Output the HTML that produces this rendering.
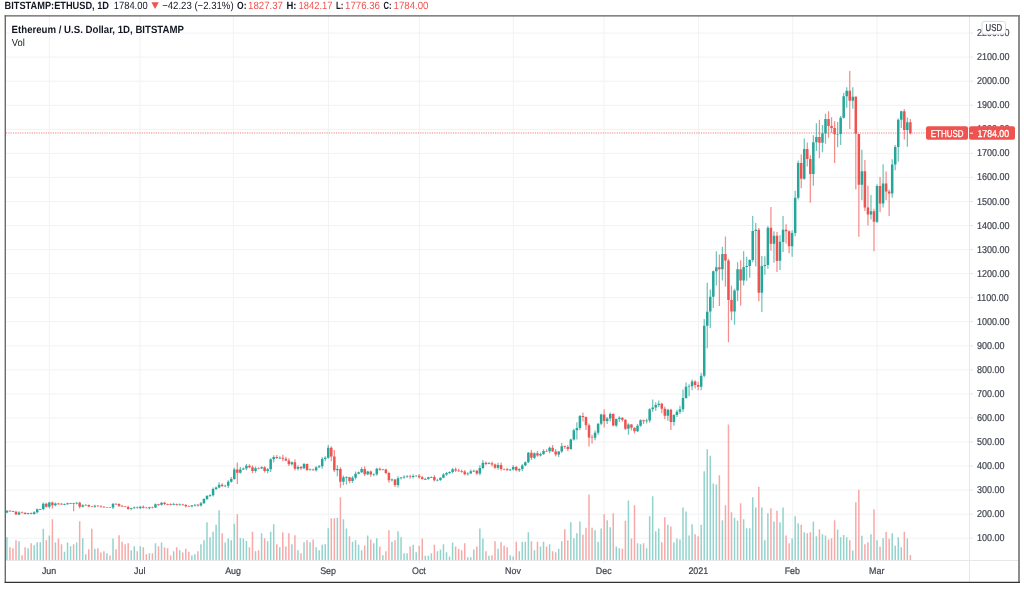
<!DOCTYPE html>
<html lang="en"><head><meta charset="utf-8"><title>ETHUSD 1D BITSTAMP chart</title>
<style>html,body{margin:0;padding:0;background:#fff;overflow:hidden}svg{display:block}</style></head>
<body>
<svg width="1024" height="589" viewBox="0 0 1024 589" font-family="'Liberation Sans', sans-serif" text-rendering="geometricPrecision">
<rect width="1024" height="589" fill="#fff"/>
<path d="M49.4 16V563.5 M140.0 16V563.5 M233.4 16V563.5 M328.4 16V563.5 M419.3 16V563.5 M513.3 16V563.5 M604.0 16V563.5 M698.6 16V563.5 M792.7 16V563.5 M877.1 16V563.5 M6 538.2H969 M6 514.2H969 M6 490.1H969 M6 466.0H969 M6 442.0H969 M6 417.9H969 M6 393.9H969 M6 369.8H969 M6 345.8H969 M6 321.7H969 M6 297.7H969 M6 273.6H969 M6 249.6H969 M6 225.5H969 M6 201.5H969 M6 177.4H969 M6 153.4H969 M6 129.3H969 M6 105.3H969 M6 81.2H969 M6 57.1H969 M6 33.1H969" stroke="#f1f2f4" stroke-width="1" fill="none"/>
<path d="M6.15 560.2v-23.0h1.5V560.2z M18.28 560.2v-19.0h1.5V560.2z M27.38 560.2v-12.0h1.5V560.2z M33.44 560.2v-15.0h1.5V560.2z M36.47 560.2v-18.0h1.5V560.2z M39.50 560.2v-18.0h1.5V560.2z M42.54 560.2v-31.5h1.5V560.2z M48.60 560.2v-24.6h1.5V560.2z M54.66 560.2v-17.7h1.5V560.2z M63.76 560.2v-8.4h1.5V560.2z M66.79 560.2v-17.7h1.5V560.2z M69.82 560.2v-14.0h1.5V560.2z M75.89 560.2v-17.7h1.5V560.2z M81.95 560.2v-22.0h1.5V560.2z M84.98 560.2v-6.0h1.5V560.2z M94.08 560.2v-11.5h1.5V560.2z M106.20 560.2v-7.0h1.5V560.2z M112.27 560.2v-21.7h1.5V560.2z M130.46 560.2v-10.0h1.5V560.2z M133.49 560.2v-14.0h1.5V560.2z M139.55 560.2v-14.0h1.5V560.2z M148.65 560.2v-7.0h1.5V560.2z M154.71 560.2v-17.0h1.5V560.2z M160.78 560.2v-17.7h1.5V560.2z M172.90 560.2v-9.0h1.5V560.2z M178.97 560.2v-10.0h1.5V560.2z M191.09 560.2v-4.6h1.5V560.2z M194.13 560.2v-6.0h1.5V560.2z M200.19 560.2v-16.0h1.5V560.2z M203.22 560.2v-20.0h1.5V560.2z M206.25 560.2v-38.0h1.5V560.2z M209.29 560.2v-23.0h1.5V560.2z M212.32 560.2v-28.4h1.5V560.2z M215.35 560.2v-35.5h1.5V560.2z M218.38 560.2v-50.0h1.5V560.2z M224.44 560.2v-17.7h1.5V560.2z M227.48 560.2v-21.7h1.5V560.2z M230.51 560.2v-20.0h1.5V560.2z M233.54 560.2v-36.5h1.5V560.2z M239.60 560.2v-22.2h1.5V560.2z M242.64 560.2v-21.6h1.5V560.2z M245.67 560.2v-19.3h1.5V560.2z M254.76 560.2v-9.0h1.5V560.2z M260.83 560.2v-27.0h1.5V560.2z M266.89 560.2v-19.0h1.5V560.2z M269.92 560.2v-28.5h1.5V560.2z M272.95 560.2v-36.0h1.5V560.2z M279.02 560.2v-13.0h1.5V560.2z M291.14 560.2v-16.0h1.5V560.2z M297.21 560.2v-10.0h1.5V560.2z M303.27 560.2v-18.0h1.5V560.2z M309.33 560.2v-18.0h1.5V560.2z M315.40 560.2v-13.0h1.5V560.2z M318.43 560.2v-10.0h1.5V560.2z M321.46 560.2v-15.4h1.5V560.2z M324.49 560.2v-16.0h1.5V560.2z M327.53 560.2v-32.0h1.5V560.2z M336.62 560.2v-42.5h1.5V560.2z M342.68 560.2v-41.0h1.5V560.2z M345.72 560.2v-31.6h1.5V560.2z M351.78 560.2v-18.5h1.5V560.2z M354.81 560.2v-20.0h1.5V560.2z M357.84 560.2v-15.4h1.5V560.2z M360.88 560.2v-10.0h1.5V560.2z M366.94 560.2v-24.7h1.5V560.2z M373.00 560.2v-17.0h1.5V560.2z M376.03 560.2v-22.0h1.5V560.2z M382.10 560.2v-5.0h1.5V560.2z M391.19 560.2v-18.5h1.5V560.2z M397.26 560.2v-29.0h1.5V560.2z M400.29 560.2v-23.0h1.5V560.2z M403.32 560.2v-7.0h1.5V560.2z M406.35 560.2v-7.0h1.5V560.2z M412.42 560.2v-15.4h1.5V560.2z M415.45 560.2v-8.0h1.5V560.2z M424.54 560.2v-4.5h1.5V560.2z M427.58 560.2v-4.5h1.5V560.2z M430.61 560.2v-7.0h1.5V560.2z M436.67 560.2v-9.0h1.5V560.2z M439.70 560.2v-10.7h1.5V560.2z M442.73 560.2v-16.0h1.5V560.2z M445.77 560.2v-8.0h1.5V560.2z M448.80 560.2v-3.7h1.5V560.2z M451.83 560.2v-17.6h1.5V560.2z M466.99 560.2v-3.0h1.5V560.2z M470.02 560.2v-3.0h1.5V560.2z M473.05 560.2v-10.7h1.5V560.2z M479.12 560.2v-31.6h1.5V560.2z M482.15 560.2v-21.6h1.5V560.2z M488.21 560.2v-4.5h1.5V560.2z M497.31 560.2v-11.4h1.5V560.2z M509.43 560.2v-5.0h1.5V560.2z M512.47 560.2v-3.7h1.5V560.2z M518.53 560.2v-9.0h1.5V560.2z M521.56 560.2v-18.5h1.5V560.2z M524.59 560.2v-18.5h1.5V560.2z M527.62 560.2v-28.0h1.5V560.2z M533.69 560.2v-10.0h1.5V560.2z M539.75 560.2v-13.7h1.5V560.2z M542.78 560.2v-18.5h1.5V560.2z M548.85 560.2v-16.0h1.5V560.2z M557.94 560.2v-11.4h1.5V560.2z M560.97 560.2v-19.0h1.5V560.2z M570.07 560.2v-38.0h1.5V560.2z M573.10 560.2v-22.0h1.5V560.2z M576.13 560.2v-27.0h1.5V560.2z M579.17 560.2v-38.7h1.5V560.2z M594.32 560.2v-30.0h1.5V560.2z M597.36 560.2v-18.5h1.5V560.2z M600.39 560.2v-31.8h1.5V560.2z M606.45 560.2v-40.0h1.5V560.2z M609.48 560.2v-33.0h1.5V560.2z M615.55 560.2v-13.7h1.5V560.2z M618.58 560.2v-12.0h1.5V560.2z M627.67 560.2v-59.7h1.5V560.2z M636.77 560.2v-17.0h1.5V560.2z M639.80 560.2v-16.0h1.5V560.2z M645.86 560.2v-12.0h1.5V560.2z M648.90 560.2v-44.0h1.5V560.2z M651.93 560.2v-64.0h1.5V560.2z M654.96 560.2v-29.0h1.5V560.2z M657.99 560.2v-31.6h1.5V560.2z M667.09 560.2v-35.4h1.5V560.2z M673.15 560.2v-18.0h1.5V560.2z M676.18 560.2v-21.6h1.5V560.2z M679.21 560.2v-20.7h1.5V560.2z M682.25 560.2v-52.6h1.5V560.2z M685.28 560.2v-48.7h1.5V560.2z M688.31 560.2v-24.7h1.5V560.2z M691.34 560.2v-36.0h1.5V560.2z M700.44 560.2v-35.4h1.5V560.2z M703.47 560.2v-89.0h1.5V560.2z M706.50 560.2v-111.0h1.5V560.2z M709.53 560.2v-104.5h1.5V560.2z M712.56 560.2v-76.6h1.5V560.2z M715.60 560.2v-75.8h1.5V560.2z M721.66 560.2v-40.0h1.5V560.2z M733.79 560.2v-42.5h1.5V560.2z M736.82 560.2v-39.4h1.5V560.2z M742.88 560.2v-41.0h1.5V560.2z M745.91 560.2v-32.0h1.5V560.2z M748.95 560.2v-32.0h1.5V560.2z M751.98 560.2v-63.0h1.5V560.2z M755.01 560.2v-52.6h1.5V560.2z M761.07 560.2v-52.6h1.5V560.2z M764.10 560.2v-20.0h1.5V560.2z M767.14 560.2v-47.0h1.5V560.2z M773.20 560.2v-38.7h1.5V560.2z M779.26 560.2v-38.0h1.5V560.2z M782.30 560.2v-52.6h1.5V560.2z M791.39 560.2v-21.6h1.5V560.2z M794.42 560.2v-44.0h1.5V560.2z M797.45 560.2v-37.0h1.5V560.2z M803.52 560.2v-28.0h1.5V560.2z M812.61 560.2v-38.7h1.5V560.2z M815.65 560.2v-24.0h1.5V560.2z M821.71 560.2v-26.0h1.5V560.2z M824.74 560.2v-24.6h1.5V560.2z M836.87 560.2v-30.8h1.5V560.2z M839.90 560.2v-23.0h1.5V560.2z M842.93 560.2v-25.2h1.5V560.2z M845.96 560.2v-23.0h1.5V560.2z M852.03 560.2v-9.8h1.5V560.2z M861.12 560.2v-24.5h1.5V560.2z M870.22 560.2v-26.0h1.5V560.2z M876.28 560.2v-20.0h1.5V560.2z M882.35 560.2v-22.0h1.5V560.2z M891.44 560.2v-27.0h1.5V560.2z M894.47 560.2v-14.5h1.5V560.2z M897.50 560.2v-23.0h1.5V560.2z M900.54 560.2v-13.0h1.5V560.2z M906.60 560.2v-21.7h1.5V560.2z" fill="#93d3cd"/>
<path d="M9.19 560.2v-13.0h1.5V560.2z M12.22 560.2v-12.0h1.5V560.2z M15.25 560.2v-20.0h1.5V560.2z M21.31 560.2v-5.0h1.5V560.2z M24.35 560.2v-13.0h1.5V560.2z M30.41 560.2v-17.0h1.5V560.2z M45.57 560.2v-20.0h1.5V560.2z M51.63 560.2v-41.0h1.5V560.2z M57.70 560.2v-21.7h1.5V560.2z M60.73 560.2v-16.0h1.5V560.2z M72.85 560.2v-16.0h1.5V560.2z M78.92 560.2v-39.0h1.5V560.2z M88.01 560.2v-11.0h1.5V560.2z M91.05 560.2v-31.5h1.5V560.2z M97.11 560.2v-12.0h1.5V560.2z M100.14 560.2v-7.7h1.5V560.2z M103.17 560.2v-9.0h1.5V560.2z M109.24 560.2v-4.6h1.5V560.2z M115.30 560.2v-11.0h1.5V560.2z M118.33 560.2v-25.0h1.5V560.2z M121.36 560.2v-18.4h1.5V560.2z M124.40 560.2v-16.0h1.5V560.2z M127.43 560.2v-17.0h1.5V560.2z M136.52 560.2v-9.0h1.5V560.2z M142.59 560.2v-13.0h1.5V560.2z M145.62 560.2v-6.0h1.5V560.2z M151.68 560.2v-7.0h1.5V560.2z M157.74 560.2v-14.0h1.5V560.2z M163.81 560.2v-13.0h1.5V560.2z M166.84 560.2v-12.0h1.5V560.2z M169.87 560.2v-4.6h1.5V560.2z M175.94 560.2v-13.0h1.5V560.2z M182.00 560.2v-7.7h1.5V560.2z M185.03 560.2v-11.5h1.5V560.2z M188.06 560.2v-8.4h1.5V560.2z M197.16 560.2v-9.0h1.5V560.2z M221.41 560.2v-27.0h1.5V560.2z M236.57 560.2v-46.0h1.5V560.2z M248.70 560.2v-13.0h1.5V560.2z M251.73 560.2v-28.5h1.5V560.2z M257.79 560.2v-10.0h1.5V560.2z M263.86 560.2v-22.0h1.5V560.2z M275.99 560.2v-16.0h1.5V560.2z M282.05 560.2v-28.0h1.5V560.2z M285.08 560.2v-13.7h1.5V560.2z M288.11 560.2v-27.0h1.5V560.2z M294.18 560.2v-25.0h1.5V560.2z M300.24 560.2v-7.0h1.5V560.2z M306.30 560.2v-20.0h1.5V560.2z M312.37 560.2v-20.7h1.5V560.2z M330.56 560.2v-42.0h1.5V560.2z M333.59 560.2v-42.0h1.5V560.2z M339.65 560.2v-63.0h1.5V560.2z M348.75 560.2v-24.0h1.5V560.2z M363.91 560.2v-14.6h1.5V560.2z M369.97 560.2v-20.7h1.5V560.2z M379.07 560.2v-13.7h1.5V560.2z M385.13 560.2v-9.0h1.5V560.2z M388.16 560.2v-30.0h1.5V560.2z M394.23 560.2v-20.0h1.5V560.2z M409.38 560.2v-13.7h1.5V560.2z M418.48 560.2v-14.5h1.5V560.2z M421.51 560.2v-21.6h1.5V560.2z M433.64 560.2v-15.4h1.5V560.2z M454.86 560.2v-13.7h1.5V560.2z M457.89 560.2v-11.4h1.5V560.2z M460.92 560.2v-10.0h1.5V560.2z M463.96 560.2v-17.0h1.5V560.2z M476.08 560.2v-13.7h1.5V560.2z M485.18 560.2v-9.0h1.5V560.2z M491.24 560.2v-5.0h1.5V560.2z M494.27 560.2v-19.0h1.5V560.2z M500.34 560.2v-18.0h1.5V560.2z M503.37 560.2v-14.5h1.5V560.2z M506.40 560.2v-13.0h1.5V560.2z M515.50 560.2v-18.5h1.5V560.2z M530.66 560.2v-19.0h1.5V560.2z M536.72 560.2v-18.5h1.5V560.2z M545.82 560.2v-13.7h1.5V560.2z M551.88 560.2v-9.0h1.5V560.2z M554.91 560.2v-8.0h1.5V560.2z M564.01 560.2v-31.0h1.5V560.2z M567.04 560.2v-20.0h1.5V560.2z M582.20 560.2v-25.4h1.5V560.2z M585.23 560.2v-32.5h1.5V560.2z M588.26 560.2v-65.7h1.5V560.2z M591.29 560.2v-32.5h1.5V560.2z M603.42 560.2v-46.0h1.5V560.2z M612.51 560.2v-47.0h1.5V560.2z M621.61 560.2v-11.4h1.5V560.2z M624.64 560.2v-39.4h1.5V560.2z M630.71 560.2v-21.6h1.5V560.2z M633.74 560.2v-55.0h1.5V560.2z M642.83 560.2v-17.0h1.5V560.2z M661.02 560.2v-18.0h1.5V560.2z M664.06 560.2v-43.0h1.5V560.2z M670.12 560.2v-33.7h1.5V560.2z M694.37 560.2v-26.0h1.5V560.2z M697.41 560.2v-24.0h1.5V560.2z M718.63 560.2v-85.0h1.5V560.2z M724.69 560.2v-55.0h1.5V560.2z M727.72 560.2v-135.8h1.5V560.2z M730.75 560.2v-48.0h1.5V560.2z M739.85 560.2v-57.0h1.5V560.2z M758.04 560.2v-73.5h1.5V560.2z M770.17 560.2v-52.0h1.5V560.2z M776.23 560.2v-49.5h1.5V560.2z M785.33 560.2v-24.7h1.5V560.2z M788.36 560.2v-17.0h1.5V560.2z M800.49 560.2v-35.4h1.5V560.2z M806.55 560.2v-27.0h1.5V560.2z M809.58 560.2v-28.0h1.5V560.2z M818.68 560.2v-31.0h1.5V560.2z M827.77 560.2v-20.8h1.5V560.2z M830.80 560.2v-22.0h1.5V560.2z M833.84 560.2v-40.0h1.5V560.2z M849.00 560.2v-20.0h1.5V560.2z M855.06 560.2v-58.0h1.5V560.2z M858.09 560.2v-70.4h1.5V560.2z M864.15 560.2v-16.0h1.5V560.2z M867.19 560.2v-18.0h1.5V560.2z M873.25 560.2v-51.0h1.5V560.2z M879.31 560.2v-13.8h1.5V560.2z M885.38 560.2v-28.5h1.5V560.2z M888.41 560.2v-21.4h1.5V560.2z M903.57 560.2v-28.5h1.5V560.2z M909.63 560.2v-5.3h1.5V560.2z" fill="#f7a9a8"/>
<path d="M6 133.00H926" stroke="#ef5350" stroke-width="1.3" stroke-opacity="0.5" stroke-dasharray="1.17 1.17" fill="none"/>
<path d="M6.90 510.28V513.21 M19.03 511.35V515.21 M28.13 512.77V514.65 M34.19 511.34V514.59 M37.22 508.56V513.58 M40.25 508.67V510.02 M43.29 502.55V510.36 M49.35 501.67V508.21 M55.41 502.43V506.35 M64.51 503.50V505.24 M67.54 502.60V504.64 M70.57 502.71V503.64 M76.64 502.34V504.61 M82.70 504.18V507.40 M85.73 503.96V505.61 M94.83 504.80V507.63 M106.95 506.92V507.52 M113.02 503.25V508.98 M131.21 507.80V510.33 M134.24 506.58V508.68 M140.30 506.06V509.21 M149.40 506.68V509.16 M155.46 503.58V507.99 M161.53 501.88V505.77 M173.65 502.85V505.16 M179.72 503.58V505.33 M191.84 504.97V507.24 M194.88 504.17V506.58 M200.94 502.00V506.48 M203.97 498.28V503.74 M207.00 494.93V500.25 M210.04 494.25V497.03 M213.07 487.57V496.45 M216.10 486.58V489.96 M219.13 482.16V488.18 M225.19 484.86V487.14 M228.23 480.23V487.96 M231.26 476.98V482.69 M234.29 467.73V479.76 M240.35 467.01V473.42 M243.39 467.45V470.12 M246.42 463.93V470.25 M255.51 466.45V472.78 M261.58 466.22V468.99 M267.64 468.06V473.24 M270.67 458.35V472.06 M273.70 455.22V462.44 M279.77 456.21V458.72 M291.89 461.38V465.43 M297.96 465.37V470.51 M304.02 463.03V469.04 M310.08 468.55V470.71 M316.15 466.36V471.43 M319.18 465.01V467.95 M322.21 457.11V468.71 M325.24 456.18V461.18 M328.28 444.88V458.83 M337.37 465.33V476.15 M343.43 475.43V485.29 M346.47 476.15V484.57 M352.53 475.91V482.89 M355.56 471.55V479.44 M358.59 471.47V474.28 M361.63 467.30V472.95 M367.69 470.72V475.31 M373.75 473.14V476.13 M376.78 467.84V475.78 M382.85 468.69V470.57 M391.94 478.40V481.52 M398.01 476.21V487.44 M401.04 476.96V479.48 M404.07 475.29V478.87 M407.10 474.98V477.94 M413.17 474.19V478.43 M416.20 475.31V476.72 M425.29 477.77V480.03 M428.33 476.65V479.71 M431.36 476.41V477.98 M437.42 478.78V481.37 M440.45 477.35V481.04 M443.48 473.26V478.22 M446.52 472.09V476.00 M449.55 471.20V474.11 M452.58 468.02V473.39 M467.74 472.32V475.56 M470.77 469.48V473.87 M473.80 469.77V472.12 M479.87 465.37V475.30 M482.90 460.02V469.27 M488.96 462.09V464.33 M498.06 462.70V469.73 M510.18 468.81V471.02 M513.22 464.98V470.54 M519.28 468.30V471.94 M522.31 464.12V471.16 M525.34 461.46V466.36 M528.37 452.10V462.92 M534.44 452.49V459.08 M540.50 452.61V456.45 M543.53 449.26V455.03 M549.60 446.58V453.15 M558.69 450.94V457.10 M561.72 443.07V452.63 M570.82 438.87V449.69 M573.85 428.77V440.55 M576.88 422.27V439.59 M579.92 415.06V429.97 M595.07 430.45V440.31 M598.11 423.23V434.78 M601.14 413.85V425.16 M607.20 416.98V423.96 M610.23 412.41V421.55 M616.30 418.42V427.08 M619.33 416.26V422.03 M628.42 423.23V434.78 M637.52 423.96V431.89 M640.55 419.14V426.84 M646.61 418.66V423.47 M649.65 408.32V422.75 M652.68 399.42V411.93 M655.71 402.31V410.73 M658.74 400.62V406.88 M667.84 408.80V420.83 M673.90 414.33V425.64 M676.93 409.76V416.98 M679.96 405.67V414.09 M683.00 389.56V411.93 M686.03 382.58V398.70 M689.06 384.27V396.29 M692.09 379.46V390.28 M701.19 372.72V390.28 M704.22 319.08V377.29 M707.25 282.76V348.19 M710.28 289.50V327.98 M713.31 270.50V308.02 M716.35 251.25V285.41 M722.41 246.68V280.60 M734.54 288.78V324.86 M737.57 262.32V301.04 M743.63 251.25V285.41 M746.66 256.79V280.84 M749.70 259.19V277.71 M752.73 215.90V262.32 M755.76 223.11V266.41 M761.82 256.07V312.11 M764.85 256.31V274.83 M767.89 226.00V268.81 M773.95 231.29V262.80 M780.01 235.14V270.02 M783.05 215.90V251.98 M792.14 230.33V256.79 M795.17 190.64V236.34 M798.20 160.57V199.54 M804.27 138.45V179.82 M813.36 135.32V185.83 M816.40 123.29V150.95 M822.46 124.98V152.16 M825.49 113.67V143.74 M837.62 122.09V147.35 M840.65 116.08V144.94 M843.68 92.75V118.48 M846.71 87.21V107.66 M852.78 87.21V108.86 M861.87 149.75V200.26 M870.97 194.97V219.50 M877.03 184.15V223.11 M883.10 164.18V207.48 M892.19 159.37V197.86 M895.22 144.94V170.20 M898.25 118.48V161.78 M901.29 110.79V128.10 M907.35 117.52V146.86" stroke="#26a69a" stroke-width="1.25" stroke-opacity="0.66" fill="none"/>
<path d="M9.94 510.15V511.29 M12.97 510.73V512.01 M16.00 510.69V514.82 M22.06 511.53V513.57 M25.10 512.39V514.58 M31.16 512.58V514.17 M46.32 502.67V507.40 M52.38 501.41V508.38 M58.45 502.80V504.85 M61.48 503.09V504.64 M73.60 502.76V511.27 M79.67 501.69V508.52 M88.76 504.52V507.31 M91.80 506.03V507.29 M97.86 504.91V506.58 M100.89 505.23V507.64 M103.92 506.14V507.94 M109.99 506.94V507.75 M116.05 503.45V504.60 M119.08 503.37V507.04 M122.11 505.09V506.81 M125.15 505.93V507.28 M128.18 505.63V509.72 M137.27 506.50V508.80 M143.34 505.60V508.56 M146.37 506.98V508.37 M152.43 506.54V508.52 M158.49 503.82V505.90 M164.56 501.75V505.22 M167.59 503.40V505.24 M170.62 503.24V505.39 M176.69 503.60V505.49 M182.75 503.82V505.35 M185.78 504.07V507.39 M188.81 505.20V506.86 M197.91 504.05V506.59 M222.16 483.34V487.01 M237.32 462.44V484.09 M249.45 464.14V468.13 M252.48 465.26V473.24 M258.54 467.21V469.30 M264.61 466.24V472.53 M276.74 454.90V458.94 M282.80 454.74V461.24 M285.83 456.64V461.37 M288.86 458.14V465.93 M294.93 459.34V470.44 M300.99 466.00V470.01 M307.05 463.45V471.01 M313.12 468.76V470.54 M331.31 446.32V461.24 M334.34 449.93V472.06 M340.40 467.25V487.70 M349.50 476.63V483.37 M364.66 466.22V475.91 M370.72 470.43V476.86 M379.82 467.57V470.73 M385.88 468.77V474.22 M388.91 471.82V482.64 M394.98 479.28V486.97 M410.13 474.82V478.63 M419.23 473.99V478.78 M422.26 475.94V479.68 M434.39 475.12V481.43 M455.61 467.47V471.92 M458.64 468.85V471.84 M461.67 469.40V472.75 M464.71 469.88V475.28 M476.83 469.83V475.03 M485.93 461.41V465.27 M491.99 461.41V466.50 M495.02 463.45V468.66 M501.09 462.45V470.81 M504.12 468.48V470.21 M507.15 467.84V470.77 M516.25 465.78V471.20 M531.41 449.69V460.03 M537.47 450.99V456.78 M546.57 449.35V451.93 M552.63 445.05V451.86 M555.66 449.05V456.18 M564.76 445.53V448.87 M567.79 445.02V450.98 M582.95 412.41V421.55 M585.98 416.50V429.97 M589.01 423.47V446.57 M592.04 434.78V443.44 M604.17 409.28V427.56 M613.26 413.13V426.36 M622.36 417.22V421.79 M625.39 419.14V429.97 M631.46 423.96V430.45 M634.49 427.56V433.58 M643.58 419.87V423.96 M661.77 402.79V413.13 M664.81 406.40V419.14 M670.87 408.80V429.97 M695.12 380.18V388.60 M698.16 381.86V390.28 M719.38 254.62V306.10 M725.44 236.58V286.61 M728.47 258.71V342.18 M731.50 285.65V320.29 M740.60 260.15V305.86 M758.79 227.92V301.28 M770.92 207.00V250.77 M776.98 232.01V271.94 M786.08 224.32V243.56 M789.11 230.33V253.18 M801.24 154.56V188.24 M807.30 142.54V166.59 M810.33 155.28V202.67 M819.43 119.68V158.17 M828.52 111.27V137.72 M831.55 117.28V132.91 M834.59 120.89V162.98 M849.75 71.10V129.07 M855.81 96.35V189.44 M858.84 133.88V236.82 M864.90 160.09V211.09 M867.94 185.83V225.52 M874.00 208.68V251.25 M880.06 176.93V212.29 M886.13 171.40V200.26 M889.16 189.44V215.90 M904.32 109.10V139.41 M910.38 118.96V134.60" stroke="#ef5350" stroke-width="1.25" stroke-opacity="0.66" fill="none"/>
<path d="M5.65 510.79h2.5v1.68h-2.5z M17.78 512.47h2.5v1.92h-2.5z M26.88 513.19h2.5v0.72h-2.5z M32.94 512.23h2.5v1.68h-2.5z M35.97 509.34h2.5v2.89h-2.5z M39.00 509.10h2.5v0.60h-2.5z M42.04 503.81h2.5v5.29h-2.5z M48.10 502.61h2.5v4.09h-2.5z M54.16 503.57h2.5v1.68h-2.5z M63.26 504.29h2.5v0.60h-2.5z M66.29 503.33h2.5v0.96h-2.5z M69.32 503.09h2.5v0.60h-2.5z M75.39 502.85h2.5v0.72h-2.5z M81.45 505.25h2.5v1.44h-2.5z M84.48 505.01h2.5v0.60h-2.5z M93.58 505.74h2.5v0.96h-2.5z M105.70 507.18h2.5v0.60h-2.5z M111.77 503.81h2.5v3.61h-2.5z M129.96 508.14h2.5v0.96h-2.5z M132.99 507.42h2.5v0.72h-2.5z M139.05 506.70h2.5v1.20h-2.5z M148.15 507.18h2.5v0.96h-2.5z M154.21 504.29h2.5v3.13h-2.5z M160.28 502.85h2.5v1.92h-2.5z M172.40 504.05h2.5v0.72h-2.5z M178.47 504.53h2.5v0.60h-2.5z M190.59 505.49h2.5v0.96h-2.5z M193.63 504.77h2.5v0.72h-2.5z M199.69 503.33h2.5v2.16h-2.5z M202.72 499.00h2.5v4.33h-2.5z M205.75 496.11h2.5v2.89h-2.5z M208.79 495.15h2.5v0.96h-2.5z M211.82 488.90h2.5v6.25h-2.5z M214.85 487.46h2.5v1.44h-2.5z M217.88 484.81h2.5v2.65h-2.5z M223.94 485.77h2.5v0.60h-2.5z M226.98 481.68h2.5v4.09h-2.5z M230.01 479.04h2.5v2.65h-2.5z M233.04 469.42h2.5v9.62h-2.5z M239.10 469.42h2.5v3.37h-2.5z M242.14 468.45h2.5v0.96h-2.5z M245.17 465.81h2.5v2.65h-2.5z M254.26 468.21h2.5v2.89h-2.5z M260.33 467.25h2.5v1.20h-2.5z M266.39 469.17h2.5v1.92h-2.5z M269.42 459.31h2.5v9.86h-2.5z M272.45 456.91h2.5v2.41h-2.5z M278.52 457.87h2.5v0.60h-2.5z M290.64 462.20h2.5v2.16h-2.5z M296.71 467.01h2.5v1.68h-2.5z M302.77 464.12h2.5v4.09h-2.5z M308.83 469.42h2.5v0.60h-2.5z M314.90 467.25h2.5v2.89h-2.5z M317.93 466.29h2.5v0.96h-2.5z M320.96 459.07h2.5v7.22h-2.5z M323.99 457.63h2.5v1.44h-2.5z M327.03 447.77h2.5v9.86h-2.5z M336.12 468.93h2.5v1.20h-2.5z M342.18 477.35h2.5v4.33h-2.5z M345.22 477.35h2.5v0.60h-2.5z M351.28 477.83h2.5v3.13h-2.5z M354.31 473.74h2.5v4.09h-2.5z M357.34 472.30h2.5v1.44h-2.5z M360.38 468.93h2.5v3.37h-2.5z M366.44 471.58h2.5v2.65h-2.5z M372.50 474.23h2.5v0.60h-2.5z M375.53 468.69h2.5v5.53h-2.5z M381.60 469.42h2.5v0.60h-2.5z M390.69 479.52h2.5v0.72h-2.5z M396.76 478.32h2.5v6.73h-2.5z M399.79 477.59h2.5v0.72h-2.5z M402.82 476.87h2.5v0.72h-2.5z M405.85 476.39h2.5v0.60h-2.5z M411.92 475.91h2.5v1.20h-2.5z M414.95 475.67h2.5v0.60h-2.5z M424.04 479.04h2.5v0.60h-2.5z M427.08 477.35h2.5v1.68h-2.5z M430.11 477.11h2.5v0.60h-2.5z M436.17 480.00h2.5v0.60h-2.5z M439.20 477.83h2.5v2.16h-2.5z M442.23 474.47h2.5v3.37h-2.5z M445.27 473.02h2.5v1.44h-2.5z M448.30 472.06h2.5v0.96h-2.5z M451.33 469.17h2.5v2.89h-2.5z M466.49 473.50h2.5v0.72h-2.5z M469.52 471.34h2.5v2.16h-2.5z M472.55 470.86h2.5v0.60h-2.5z M478.62 467.97h2.5v5.53h-2.5z M481.65 462.68h2.5v5.29h-2.5z M487.71 463.16h2.5v0.72h-2.5z M496.81 465.09h2.5v2.65h-2.5z M508.93 469.42h2.5v0.72h-2.5z M511.97 467.01h2.5v2.41h-2.5z M518.03 468.93h2.5v1.20h-2.5z M521.06 465.57h2.5v3.37h-2.5z M524.09 462.20h2.5v3.37h-2.5z M527.12 452.82h2.5v9.38h-2.5z M533.19 453.30h2.5v4.33h-2.5z M539.25 454.02h2.5v1.44h-2.5z M542.28 450.89h2.5v3.13h-2.5z M548.35 447.77h2.5v3.37h-2.5z M557.44 451.62h2.5v2.89h-2.5z M560.47 446.32h2.5v5.29h-2.5z M569.57 439.59h2.5v9.38h-2.5z M572.60 430.21h2.5v9.38h-2.5z M575.63 428.04h2.5v2.16h-2.5z M578.67 416.02h2.5v12.03h-2.5z M593.82 432.85h2.5v4.81h-2.5z M596.86 423.71h2.5v9.14h-2.5z M599.89 414.57h2.5v9.14h-2.5z M605.95 418.42h2.5v2.65h-2.5z M608.98 414.09h2.5v4.33h-2.5z M615.05 418.90h2.5v6.49h-2.5z M618.08 417.70h2.5v1.20h-2.5z M627.17 424.44h2.5v4.33h-2.5z M636.27 425.64h2.5v5.53h-2.5z M639.30 420.35h2.5v5.29h-2.5z M645.36 420.59h2.5v0.72h-2.5z M648.40 409.28h2.5v11.30h-2.5z M651.43 407.60h2.5v1.68h-2.5z M654.46 404.95h2.5v2.65h-2.5z M657.49 403.75h2.5v1.20h-2.5z M666.59 409.76h2.5v6.01h-2.5z M672.65 415.06h2.5v6.98h-2.5z M675.68 411.69h2.5v3.37h-2.5z M678.71 409.28h2.5v2.41h-2.5z M681.75 397.98h2.5v11.30h-2.5z M684.78 386.67h2.5v11.30h-2.5z M687.81 386.19h2.5v0.60h-2.5z M690.84 381.38h2.5v4.81h-2.5z M699.94 375.85h2.5v10.82h-2.5z M702.97 325.82h2.5v50.03h-2.5z M706.00 311.63h2.5v14.19h-2.5z M709.03 296.71h2.5v14.91h-2.5z M712.06 271.22h2.5v25.50h-2.5z M715.10 267.13h2.5v4.09h-2.5z M721.16 253.90h2.5v15.39h-2.5z M733.29 290.46h2.5v20.93h-2.5z M736.32 269.29h2.5v21.17h-2.5z M742.38 266.89h2.5v13.71h-2.5z M745.41 265.93h2.5v0.96h-2.5z M748.45 259.91h2.5v6.01h-2.5z M751.48 231.05h2.5v28.86h-2.5z M754.51 229.85h2.5v1.20h-2.5z M760.57 265.93h2.5v26.70h-2.5z M763.60 264.96h2.5v0.96h-2.5z M766.64 227.68h2.5v37.28h-2.5z M772.70 235.86h2.5v7.94h-2.5z M778.76 241.87h2.5v19.00h-2.5z M781.80 229.85h2.5v12.03h-2.5z M790.89 232.97h2.5v13.23h-2.5z M793.92 197.86h2.5v35.12h-2.5z M796.95 162.98h2.5v34.88h-2.5z M803.02 149.03h2.5v29.83h-2.5z M812.11 142.29h2.5v31.75h-2.5z M815.15 137.00h2.5v5.29h-2.5z M821.21 133.40h2.5v9.38h-2.5z M824.24 118.96h2.5v14.43h-2.5z M836.37 133.88h2.5v0.60h-2.5z M839.40 117.76h2.5v16.12h-2.5z M842.43 96.35h2.5v21.41h-2.5z M845.46 90.82h2.5v5.53h-2.5z M851.53 96.83h2.5v3.85h-2.5z M860.62 171.16h2.5v13.47h-2.5z M869.72 211.33h2.5v3.13h-2.5z M875.78 186.07h2.5v35.60h-2.5z M881.85 183.43h2.5v19.96h-2.5z M890.94 164.42h2.5v29.10h-2.5z M893.97 147.11h2.5v17.32h-2.5z M897.00 119.68h2.5v27.42h-2.5z M900.04 111.27h2.5v8.42h-2.5z M906.10 122.33h2.5v7.70h-2.5z" fill="#26a69a"/>
<path d="M8.69 510.79h2.5v0.60h-2.5z M11.72 511.03h2.5v0.72h-2.5z M14.75 511.75h2.5v2.65h-2.5z M20.81 512.47h2.5v0.60h-2.5z M23.85 512.71h2.5v1.20h-2.5z M29.91 513.19h2.5v0.72h-2.5z M45.07 503.81h2.5v2.89h-2.5z M51.13 502.61h2.5v2.65h-2.5z M57.20 503.57h2.5v0.60h-2.5z M60.23 503.81h2.5v0.60h-2.5z M72.35 503.09h2.5v0.60h-2.5z M78.42 502.85h2.5v3.85h-2.5z M87.51 505.01h2.5v1.44h-2.5z M90.55 506.46h2.5v0.60h-2.5z M96.61 505.74h2.5v0.60h-2.5z M99.64 506.22h2.5v0.60h-2.5z M102.67 506.70h2.5v0.60h-2.5z M108.74 507.18h2.5v0.60h-2.5z M114.80 503.81h2.5v0.60h-2.5z M117.83 504.05h2.5v1.68h-2.5z M120.86 505.74h2.5v0.72h-2.5z M123.90 506.46h2.5v0.60h-2.5z M126.93 506.94h2.5v2.16h-2.5z M136.02 507.42h2.5v0.60h-2.5z M142.09 506.70h2.5v0.96h-2.5z M145.12 507.66h2.5v0.60h-2.5z M151.18 507.18h2.5v0.60h-2.5z M157.24 504.29h2.5v0.60h-2.5z M163.31 502.85h2.5v1.20h-2.5z M166.34 504.05h2.5v0.60h-2.5z M169.37 504.29h2.5v0.60h-2.5z M175.44 504.05h2.5v0.60h-2.5z M181.50 504.53h2.5v0.60h-2.5z M184.53 505.01h2.5v1.20h-2.5z M187.56 506.22h2.5v0.60h-2.5z M196.66 504.77h2.5v0.72h-2.5z M220.91 484.81h2.5v1.20h-2.5z M236.07 469.42h2.5v3.37h-2.5z M248.20 465.81h2.5v1.44h-2.5z M251.23 467.25h2.5v3.85h-2.5z M257.29 468.21h2.5v0.60h-2.5z M263.36 467.25h2.5v3.85h-2.5z M275.49 456.91h2.5v1.20h-2.5z M281.55 457.87h2.5v0.96h-2.5z M284.58 458.83h2.5v1.68h-2.5z M287.61 460.52h2.5v3.85h-2.5z M293.68 462.20h2.5v6.49h-2.5z M299.74 467.01h2.5v1.20h-2.5z M305.80 464.12h2.5v5.77h-2.5z M311.87 469.42h2.5v0.72h-2.5z M330.06 447.77h2.5v8.66h-2.5z M333.09 456.43h2.5v13.71h-2.5z M339.15 468.93h2.5v12.75h-2.5z M348.25 477.35h2.5v3.61h-2.5z M363.41 468.93h2.5v5.29h-2.5z M369.47 471.58h2.5v2.89h-2.5z M378.57 468.69h2.5v0.96h-2.5z M384.63 469.42h2.5v3.61h-2.5z M387.66 473.02h2.5v7.22h-2.5z M393.73 479.52h2.5v5.53h-2.5z M408.88 476.39h2.5v0.72h-2.5z M417.98 475.67h2.5v1.68h-2.5z M421.01 477.35h2.5v1.68h-2.5z M433.14 477.11h2.5v3.13h-2.5z M454.36 469.17h2.5v1.44h-2.5z M457.39 470.62h2.5v0.60h-2.5z M460.42 471.10h2.5v0.60h-2.5z M463.46 471.58h2.5v2.65h-2.5z M475.58 470.86h2.5v2.65h-2.5z M484.68 462.68h2.5v1.20h-2.5z M490.74 463.16h2.5v1.44h-2.5z M493.77 464.60h2.5v3.13h-2.5z M499.84 465.09h2.5v3.85h-2.5z M502.87 468.93h2.5v0.60h-2.5z M505.90 469.17h2.5v0.96h-2.5z M515.00 467.01h2.5v3.13h-2.5z M530.16 452.82h2.5v4.81h-2.5z M536.22 453.30h2.5v2.16h-2.5z M545.32 450.89h2.5v0.60h-2.5z M551.38 447.77h2.5v3.61h-2.5z M554.41 451.38h2.5v3.13h-2.5z M563.51 446.32h2.5v0.72h-2.5z M566.54 447.05h2.5v1.92h-2.5z M581.70 416.02h2.5v0.96h-2.5z M584.73 416.98h2.5v8.18h-2.5z M587.76 425.16h2.5v12.27h-2.5z M590.79 437.42h2.5v0.60h-2.5z M602.92 414.57h2.5v6.49h-2.5z M612.01 414.09h2.5v11.30h-2.5z M621.11 417.70h2.5v2.16h-2.5z M624.14 419.87h2.5v8.90h-2.5z M630.21 424.44h2.5v3.37h-2.5z M633.24 427.80h2.5v3.37h-2.5z M642.33 420.35h2.5v0.96h-2.5z M660.52 403.75h2.5v5.05h-2.5z M663.56 408.80h2.5v6.98h-2.5z M669.62 409.76h2.5v12.27h-2.5z M693.87 381.38h2.5v3.61h-2.5z M696.91 384.99h2.5v1.68h-2.5z M718.13 267.13h2.5v2.16h-2.5z M724.19 253.90h2.5v6.49h-2.5z M727.22 260.39h2.5v39.69h-2.5z M730.25 300.08h2.5v11.30h-2.5z M739.35 269.29h2.5v11.30h-2.5z M757.54 229.85h2.5v62.78h-2.5z M769.67 227.68h2.5v16.12h-2.5z M775.73 235.86h2.5v25.02h-2.5z M784.83 229.85h2.5v1.44h-2.5z M787.86 231.29h2.5v14.91h-2.5z M799.99 162.98h2.5v15.87h-2.5z M806.05 149.03h2.5v9.86h-2.5z M809.08 158.89h2.5v15.15h-2.5z M818.18 137.00h2.5v5.77h-2.5z M827.27 118.96h2.5v6.98h-2.5z M830.30 125.94h2.5v2.16h-2.5z M833.34 128.10h2.5v6.25h-2.5z M848.50 90.82h2.5v9.86h-2.5z M854.56 96.83h2.5v37.04h-2.5z M857.59 133.88h2.5v50.75h-2.5z M863.65 171.16h2.5v36.32h-2.5z M866.69 207.48h2.5v6.98h-2.5z M872.75 211.33h2.5v10.34h-2.5z M878.81 186.07h2.5v17.32h-2.5z M884.88 183.43h2.5v8.18h-2.5z M887.91 191.60h2.5v1.92h-2.5z M903.07 111.27h2.5v18.76h-2.5z M909.13 122.33h2.5v10.82h-2.5z" fill="#ef5350"/>
<path d="M969.5 16V582M6 560.5H1019" stroke="#e6e7eb" stroke-width="1" fill="none"/>
<path d="M970 538.2h3 M970 514.2h3 M970 490.1h3 M970 466.0h3 M970 442.0h3 M970 417.9h3 M970 393.9h3 M970 369.8h3 M970 345.8h3 M970 321.7h3 M970 297.7h3 M970 273.6h3 M970 249.6h3 M970 225.5h3 M970 201.5h3 M970 177.4h3 M970 153.4h3 M970 129.3h3 M970 105.3h3 M970 81.2h3 M970 57.1h3 M970 33.1h3" stroke="#e6e7eb" stroke-width="1" fill="none"/>
<text x="976.9" y="541.26" font-size="10" fill="#3e424d" stroke="#3e424d" stroke-width="0.2" textLength="27.5" lengthAdjust="spacingAndGlyphs">100.00</text>
<text x="976.9" y="517.20" font-size="10" fill="#3e424d" stroke="#3e424d" stroke-width="0.2" textLength="27.5" lengthAdjust="spacingAndGlyphs">200.00</text>
<text x="976.9" y="493.15" font-size="10" fill="#3e424d" stroke="#3e424d" stroke-width="0.2" textLength="27.5" lengthAdjust="spacingAndGlyphs">300.00</text>
<text x="976.9" y="469.10" font-size="10" fill="#3e424d" stroke="#3e424d" stroke-width="0.2" textLength="27.5" lengthAdjust="spacingAndGlyphs">400.00</text>
<text x="976.9" y="445.05" font-size="10" fill="#3e424d" stroke="#3e424d" stroke-width="0.2" textLength="27.5" lengthAdjust="spacingAndGlyphs">500.00</text>
<text x="976.9" y="420.99" font-size="10" fill="#3e424d" stroke="#3e424d" stroke-width="0.2" textLength="27.5" lengthAdjust="spacingAndGlyphs">600.00</text>
<text x="976.9" y="396.94" font-size="10" fill="#3e424d" stroke="#3e424d" stroke-width="0.2" textLength="27.5" lengthAdjust="spacingAndGlyphs">700.00</text>
<text x="976.9" y="372.89" font-size="10" fill="#3e424d" stroke="#3e424d" stroke-width="0.2" textLength="27.5" lengthAdjust="spacingAndGlyphs">800.00</text>
<text x="976.9" y="348.83" font-size="10" fill="#3e424d" stroke="#3e424d" stroke-width="0.2" textLength="27.5" lengthAdjust="spacingAndGlyphs">900.00</text>
<text x="976.9" y="324.78" font-size="10" fill="#3e424d" stroke="#3e424d" stroke-width="0.2" textLength="32.5" lengthAdjust="spacingAndGlyphs">1000.00</text>
<text x="976.9" y="300.73" font-size="10" fill="#3e424d" stroke="#3e424d" stroke-width="0.2" textLength="31.8" lengthAdjust="spacingAndGlyphs">1100.00</text>
<text x="976.9" y="276.67" font-size="10" fill="#3e424d" stroke="#3e424d" stroke-width="0.2" textLength="32.5" lengthAdjust="spacingAndGlyphs">1200.00</text>
<text x="976.9" y="252.62" font-size="10" fill="#3e424d" stroke="#3e424d" stroke-width="0.2" textLength="32.5" lengthAdjust="spacingAndGlyphs">1300.00</text>
<text x="976.9" y="228.57" font-size="10" fill="#3e424d" stroke="#3e424d" stroke-width="0.2" textLength="32.5" lengthAdjust="spacingAndGlyphs">1400.00</text>
<text x="976.9" y="204.52" font-size="10" fill="#3e424d" stroke="#3e424d" stroke-width="0.2" textLength="32.5" lengthAdjust="spacingAndGlyphs">1500.00</text>
<text x="976.9" y="180.46" font-size="10" fill="#3e424d" stroke="#3e424d" stroke-width="0.2" textLength="32.5" lengthAdjust="spacingAndGlyphs">1600.00</text>
<text x="976.9" y="156.41" font-size="10" fill="#3e424d" stroke="#3e424d" stroke-width="0.2" textLength="32.5" lengthAdjust="spacingAndGlyphs">1700.00</text>
<text x="976.9" y="132.36" font-size="10" fill="#3e424d" stroke="#3e424d" stroke-width="0.2" textLength="32.5" lengthAdjust="spacingAndGlyphs">1800.00</text>
<text x="976.9" y="108.30" font-size="10" fill="#3e424d" stroke="#3e424d" stroke-width="0.2" textLength="32.5" lengthAdjust="spacingAndGlyphs">1900.00</text>
<text x="976.9" y="84.25" font-size="10" fill="#3e424d" stroke="#3e424d" stroke-width="0.2" textLength="32.5" lengthAdjust="spacingAndGlyphs">2000.00</text>
<text x="976.9" y="60.20" font-size="10" fill="#3e424d" stroke="#3e424d" stroke-width="0.2" textLength="32.5" lengthAdjust="spacingAndGlyphs">2100.00</text>
<text x="976.9" y="36.14" font-size="10" fill="#3e424d" stroke="#3e424d" stroke-width="0.2" textLength="32.5" lengthAdjust="spacingAndGlyphs">2200.00</text>
<text x="41.9" y="574.1" font-size="9.5" fill="#3e424d" stroke="#3e424d" stroke-width="0.2" textLength="14.3" lengthAdjust="spacingAndGlyphs">Jun</text>
<text x="134.0" y="574.1" font-size="9.5" fill="#3e424d" stroke="#3e424d" stroke-width="0.2" textLength="11.4" lengthAdjust="spacingAndGlyphs">Jul</text>
<text x="225.2" y="574.1" font-size="9.5" fill="#3e424d" stroke="#3e424d" stroke-width="0.2" textLength="15.8" lengthAdjust="spacingAndGlyphs">Aug</text>
<text x="320.2" y="574.1" font-size="9.5" fill="#3e424d" stroke="#3e424d" stroke-width="0.2" textLength="15.8" lengthAdjust="spacingAndGlyphs">Sep</text>
<text x="412.0" y="574.1" font-size="9.5" fill="#3e424d" stroke="#3e424d" stroke-width="0.2" textLength="13.8" lengthAdjust="spacingAndGlyphs">Oct</text>
<text x="505.1" y="574.1" font-size="9.5" fill="#3e424d" stroke="#3e424d" stroke-width="0.2" textLength="15.8" lengthAdjust="spacingAndGlyphs">Nov</text>
<text x="595.8" y="574.1" font-size="9.5" fill="#3e424d" stroke="#3e424d" stroke-width="0.2" textLength="15.8" lengthAdjust="spacingAndGlyphs">Dec</text>
<text x="688.4" y="574.1" font-size="9.5" fill="#3e424d" stroke="#3e424d" stroke-width="0.2" textLength="19.8" lengthAdjust="spacingAndGlyphs">2021</text>
<text x="784.7" y="574.1" font-size="9.5" fill="#3e424d" stroke="#3e424d" stroke-width="0.2" textLength="15.3" lengthAdjust="spacingAndGlyphs">Feb</text>
<text x="869.1" y="574.1" font-size="9.5" fill="#3e424d" stroke="#3e424d" stroke-width="0.2" textLength="15.3" lengthAdjust="spacingAndGlyphs">Mar</text>
<rect x="982" y="21.4" width="23.5" height="12.8" rx="2.2" fill="#fff" stroke="#d8dbe3" stroke-width="1"/>
<text x="985.6" y="31.1" font-size="10" fill="#2a2e39" stroke="#2a2e39" stroke-width="0.2" textLength="16.4" lengthAdjust="spacingAndGlyphs">USD</text>
<rect x="926" y="126.3" width="42" height="13.5" rx="2" fill="#ef5350"/>
<rect x="969" y="126.3" width="46" height="13.5" rx="2" fill="#ef5350"/>
<path d="M970 133.2h3" stroke="#fff" stroke-width="1"/>
<text x="930.8" y="136.7" font-size="10" fill="#fff" stroke="#fff" stroke-width="0.3" textLength="32.6" lengthAdjust="spacingAndGlyphs">ETHUSD</text>
<text x="977.4" y="136.7" font-size="10" fill="#fff" stroke="#fff" stroke-width="0.3" textLength="31.7" lengthAdjust="spacingAndGlyphs">1784.00</text>
<text x="11.6" y="33.0" font-size="10.5" font-weight="bold" fill="#131722" textLength="172.4" lengthAdjust="spacingAndGlyphs">Ethereum / U.S. Dollar, 1D, BITSTAMP</text>
<text x="11.8" y="46.3" font-size="10.3" fill="#131722" textLength="13" lengthAdjust="spacingAndGlyphs">Vol</text>
<text x="4.6" y="8.55" font-size="10.5" font-weight="bold" fill="#131722" textLength="104.4" lengthAdjust="spacingAndGlyphs">BITSTAMP:ETHUSD, 1D</text>
<text x="113.7" y="8.55" font-size="10.5" fill="#131722" textLength="34" lengthAdjust="spacingAndGlyphs">1784.00</text>
<path d="M151.4 2.2h7.4l-3.7 6.9z" fill="#ef5350"/>
<text x="162.2" y="8.55" font-size="10.5" fill="#131722" textLength="71.4" lengthAdjust="spacingAndGlyphs">−42.23 (−2.31%)</text>
<text x="237" y="8.55" font-size="10.5" font-weight="bold" fill="#131722" textLength="9.5" lengthAdjust="spacingAndGlyphs">O:</text>
<text x="248" y="8.55" font-size="10.5" fill="#ef5350" textLength="35" lengthAdjust="spacingAndGlyphs">1827.37</text>
<text x="286.5" y="8.55" font-size="10.5" font-weight="bold" fill="#131722" textLength="10" lengthAdjust="spacingAndGlyphs">H:</text>
<text x="298.5" y="8.55" font-size="10.5" fill="#ef5350" textLength="34" lengthAdjust="spacingAndGlyphs">1842.17</text>
<text x="336" y="8.55" font-size="10.5" font-weight="bold" fill="#131722" textLength="7.5" lengthAdjust="spacingAndGlyphs">L:</text>
<text x="345" y="8.55" font-size="10.5" fill="#ef5350" textLength="35" lengthAdjust="spacingAndGlyphs">1776.36</text>
<text x="383.5" y="8.55" font-size="10.5" font-weight="bold" fill="#131722" textLength="8" lengthAdjust="spacingAndGlyphs">C:</text>
<text x="393.5" y="8.55" font-size="10.5" fill="#ef5350" textLength="35" lengthAdjust="spacingAndGlyphs">1784.00</text>
<path d="M4.6 15.9H1020" stroke="#5c5c5c" stroke-width="1.3" fill="none"/>
<path d="M5.3 15.3V583" stroke="#6a6a6a" stroke-width="1.4" fill="none"/>
<path d="M1019 15.3V582.9" stroke="#808080" stroke-width="1.8" fill="none"/>
<path d="M4.7 582.4H1019.9" stroke="#333" stroke-width="1.2" fill="none"/>
</svg>
</body></html>
